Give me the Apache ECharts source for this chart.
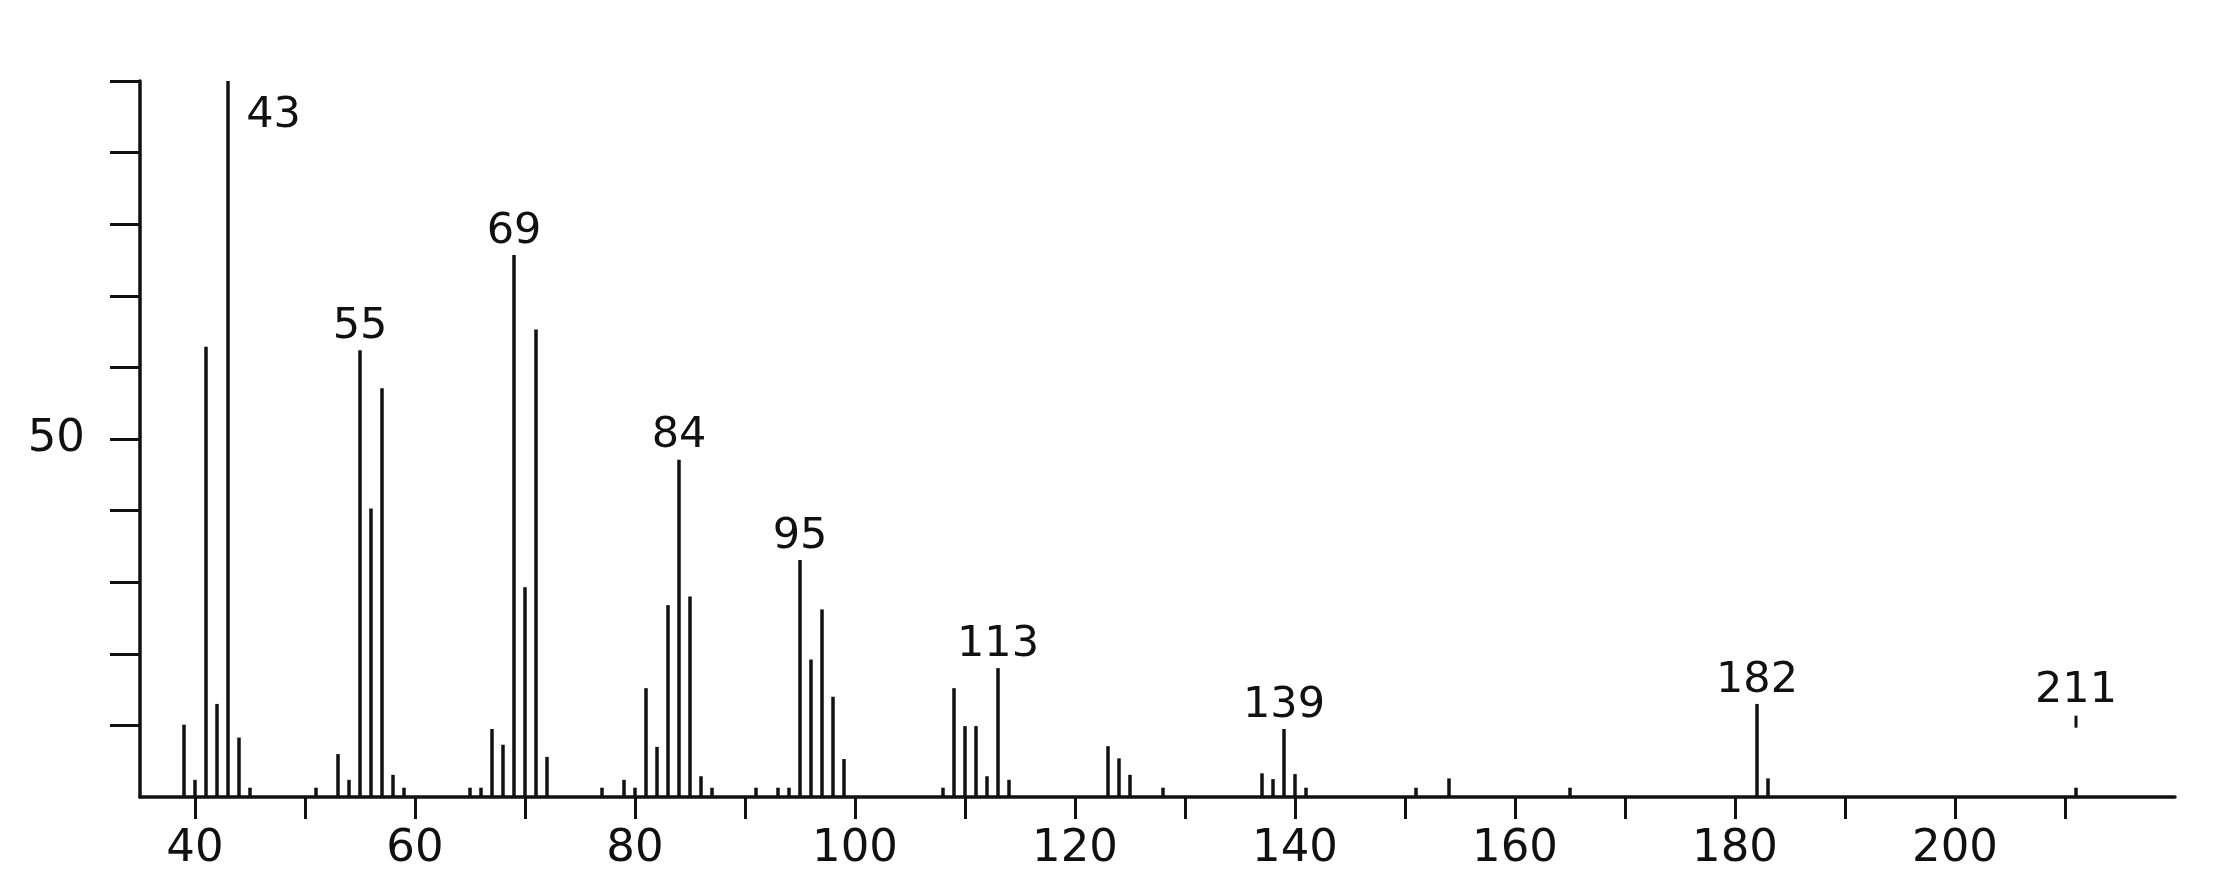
<!DOCTYPE html>
<html>
<head>
<meta charset="utf-8">
<title>Mass spectrum</title>
<script src="https://cdn.jsdelivr.net/npm/echarts@6.0.0/dist/echarts.min.js"></script>
<style>
  html, body { margin: 0; padding: 0; background: #fff; }
  #chart { width: 2226px; height: 896px; }
</style>
</head>
<body>
<div id="chart"></div>
<script>
// m/z values and relative intensities (%)
const mz = [39, 40, 41, 42, 43, 44, 45, 51, 53, 54, 55, 56, 57, 58, 59,
  65, 66, 67, 68, 69, 70, 71, 72, 77, 79, 80, 81, 82, 83, 84, 85, 86, 87,
  91, 93, 94, 95, 96, 97, 98, 99, 108, 109, 110, 111, 112, 113, 114,
  123, 124, 125, 128, 137, 138, 139, 140, 141, 151, 154, 165, 182, 183, 211]
const intensity = [10.1, 2.4, 62.9, 13.0, 100, 8.3, 1.3, 1.3, 6.0, 2.4, 62.4, 40.3, 57.1, 3.1, 1.3,
  1.3, 1.3, 9.5, 7.3, 75.7, 29.3, 65.3, 5.6, 1.3, 2.4, 1.3, 15.2, 7.0, 26.8, 47.1, 28.0, 2.9, 1.3,
  1.3, 1.3, 1.3, 33.1, 19.2, 26.2, 14.0, 5.3, 1.3, 15.2, 9.9, 9.9, 2.9, 18.0, 2.4,
  7.1, 5.4, 3.1, 1.3, 3.3, 2.5, 9.5, 3.2, 1.3, 1.3, 2.6, 1.3, 13.0, 2.6, 1.3]
const labeledPeaks = [43, 55, 69, 84, 95, 113, 139, 182, 211]

const xTicks = [40, 50, 60, 70, 80, 90, 100, 110, 120, 130, 140, 150, 160, 170, 180, 190, 200, 210]
const xTickLabels = [40, 60, 80, 100, 120, 140, 160, 180, 200]
const yTicks = [10, 20, 30, 40, 50, 60, 70, 80, 90, 100]
const yTickLabels = [50]

const ink = '#111'
const font = "'DejaVu Sans', 'Liberation Sans', sans-serif"

const data = mz.map((m, i) => {
  const item = { value: [m, intensity[i]] }
  if (labeledPeaks.includes(m)) {
    item.label = { show: true, position: 'top', distance: 2 }
    if (m === 43) {
      item.label = { show: true, position: [20, 13] }
    }
    if (m === 211) {
      // the tiny molecular-ion peak gets its label lifted with a short marker dash
      item.label = {
        show: true, position: 'top', distance: 60,
        formatter: '{b|211}\n{d|}',
      }
    }
  }
  return item
})

const chart = echarts.init(document.getElementById('chart'), null, { renderer: 'canvas' })
chart.setOption({
  backgroundColor: '#fff',
  animation: false,
  grid: { left: 140, right: 51, top: 81, bottom: 99, outerBoundsMode: 'none' },
  xAxis: {
    type: 'value',
    min: 35,
    max: 220,
    splitLine: { show: false },
    axisLine: { lineStyle: { color: ink, width: 3.5 } },
    axisTick: { customValues: xTicks, length: 22, lineStyle: { color: ink, width: 3 } },
    axisLabel: {
      customValues: xTickLabels,
      margin: 30,
      color: ink,
      fontSize: 45,
      fontFamily: font,
    },
  },
  yAxis: {
    type: 'value',
    min: 0,
    max: 100,
    splitLine: { show: false },
    axisLine: { show: true, lineStyle: { color: ink, width: 3.5 } },
    axisTick: { show: true, customValues: yTicks, length: 30, lineStyle: { color: ink, width: 3 } },
    axisLabel: {
      customValues: yTickLabels,
      margin: 55,
      color: ink,
      fontSize: 45,
      fontFamily: font,
    },
  },
  series: [
    {
      type: 'bar',
      barWidth: 3.5,
      itemStyle: { color: ink },
      label: {
        show: false,
        color: ink,
        fontSize: 43,
        fontFamily: font,
        formatter: (p) => String(p.value[0]),
        rich: {
          b: { color: ink, fontSize: 43, fontFamily: font, lineHeight: 50 },
          d: { width: 3, height: 12, backgroundColor: ink },
        },
      },
      data: data,
    },
  ],
})
</script>
</body>
</html>
